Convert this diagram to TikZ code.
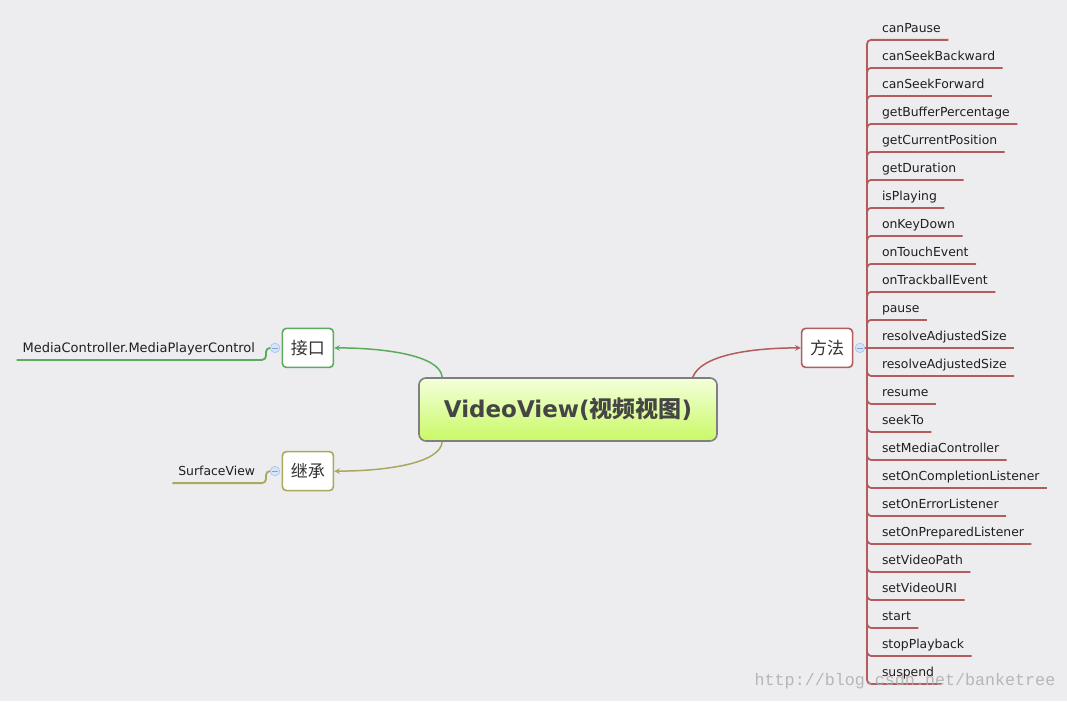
\documentclass[tikz,border=0pt]{standalone}
\usepackage{fontspec}
\setmainfont{DejaVu Sans}
\newfontfamily\cjk{Noto Sans CJK SC}
\newfontfamily\urlfont{Liberation Mono}
\usetikzlibrary{shapes.geometric, arrows, positioning}

\definecolor{paper}{HTML}{EDEDEF}
\definecolor{coretop}{HTML}{F4FFDC}
\definecolor{corebot}{HTML}{C9F965}
\definecolor{coreline}{HTML}{7F7F7F}
\definecolor{coretext}{HTML}{454545}
\definecolor{ifgreen}{HTML}{5CAB5C}
\definecolor{inholive}{HTML}{A8A85E}
\definecolor{methred}{HTML}{B25C5C}
\definecolor{foldfill}{HTML}{D6E4F8}
\definecolor{foldline}{HTML}{A7C1EC}
\definecolor{foldmark}{HTML}{7FA3DE}

\tikzstyle{central} = [rectangle, rounded corners=7pt, minimum width=298pt, minimum height=63pt, text centered, draw=coreline, line width=1.6pt, top color=coretop, bottom color=corebot, text=coretext, font=\fontsize{23}{23}\selectfont\bfseries]
\tikzstyle{topic} = [rectangle, rounded corners=4pt, minimum width=51pt, minimum height=39pt, text centered, line width=1.6pt, fill=white, text=black!80, font=\cjk\fontsize{17}{17}\selectfont]
\tikzstyle{fold} = [circle, minimum size=9.5pt, inner sep=0pt, draw=foldline, fill=foldfill, line width=0.6pt, path picture={\draw[foldmark, line width=0.8pt] ([xshift=-2.6pt]path picture bounding box.center) -- ([xshift=2.6pt]path picture bounding box.center);}]
\tikzstyle{leaf} = [rectangle, anchor=north west, outer sep=0pt, inner xsep=7.5pt, inner ysep=0pt, minimum height=28pt, text height=16pt, text depth=3pt, text=black!88, font=\fontsize{12.4}{12.4}\selectfont]
\tikzstyle{sideleaf} = [leaf, anchor=south east, inner xsep=6pt]
\tikzstyle{edge} = [line width=1.5pt, ->, >=stealth]
\tikzstyle{branch} = [line width=1.8pt, rounded corners=4pt]

\begin{document}
\begin{tikzpicture}[x=1pt, y=1pt]

\fill[paper] (0,0) rectangle (1067,-701);
\useasboundingbox (0,0) rectangle (1067,-701);

\node (0) [central] at (568,-409.5) {VideoView({\cjk 视频视图})};
\node (1) [topic, draw=ifgreen, above left=9pt and 84pt of 0] {接口};
\node (2) [topic, draw=inholive, below left=9pt and 84pt of 0] {继承};
\node (3) [topic, draw=methred, above right=9pt and 83pt of 0] {方法};

\node (4) [fold, left=1.5pt of 1] {};
\node (5) [fold, left=1.5pt of 2] {};
\node (6) [fold, right=1.5pt of 3] {};
\coordinate (hub) at ([xshift=2pt]6.east);

\node (7) [sideleaf, font=\fontsize{13}{13}\selectfont] at ([xshift=-9pt, yshift=-12pt]4.west) {MediaController.MediaPlayerControl};
\node (8) [sideleaf] at ([xshift=-9pt, yshift=-12pt]5.west) {SurfaceView};

\node (9) [leaf, anchor=south west] at ([xshift=7.5pt, yshift=308pt]hub) {canPause};
\node (10) [leaf] at (9.south west) {canSeekBackward};
\node (11) [leaf] at (10.south west) {canSeekForward};
\node (12) [leaf] at (11.south west) {getBufferPercentage};
\node (13) [leaf] at (12.south west) {getCurrentPosition};
\node (14) [leaf] at (13.south west) {getDuration};
\node (15) [leaf] at (14.south west) {isPlaying};
\node (16) [leaf] at (15.south west) {onKeyDown};
\node (17) [leaf] at (16.south west) {onTouchEvent};
\node (18) [leaf] at (17.south west) {onTrackballEvent};
\node (19) [leaf] at (18.south west) {pause};
\node (20) [leaf] at (19.south west) {resolveAdjustedSize};
\node (21) [leaf] at (20.south west) {resolveAdjustedSize};
\node (22) [leaf] at (21.south west) {resume};
\node (23) [leaf] at (22.south west) {seekTo};
\node (24) [leaf] at (23.south west) {setMediaController};
\node (25) [leaf] at (24.south west) {setOnCompletionListener};
\node (26) [leaf] at (25.south west) {setOnErrorListener};
\node (27) [leaf] at (26.south west) {setOnPreparedListener};
\node (28) [leaf] at (27.south west) {setVideoPath};
\node (29) [leaf] at (28.south west) {setVideoURI};
\node (30) [leaf] at (29.south west) {start};
\node (31) [leaf] at (30.south west) {stopPlayback};
\node (32) [leaf] at (31.south west) {suspend};

\draw [edge, ifgreen] ([xshift=24pt]0.north west) .. controls +(-2,22) and +(50,0) .. (1.east);
\draw [edge, inholive] ([xshift=24pt]0.south west) .. controls +(-2,-22) and +(50,0) .. (2.east);
\draw [edge, methred] ([xshift=-25pt]0.north east) .. controls +(8,22) and +(-50,0) .. (3.west);

\draw [branch, ifgreen] (4.west) -- ++(-4,0) |- (7.south west);
\draw [branch, inholive] (5.west) -- ++(-4,0) |- (8.south west);

\draw [branch, methred] (6.east) -- (hub);
\draw [branch, methred] (hub) |- (9.south east);
\draw [branch, methred] (hub) |- (10.south east);
\draw [branch, methred] (hub) |- (11.south east);
\draw [branch, methred] (hub) |- (12.south east);
\draw [branch, methred] (hub) |- (13.south east);
\draw [branch, methred] (hub) |- (14.south east);
\draw [branch, methred] (hub) |- (15.south east);
\draw [branch, methred] (hub) |- (16.south east);
\draw [branch, methred] (hub) |- (17.south east);
\draw [branch, methred] (hub) |- (18.south east);
\draw [branch, methred] (hub) |- (19.south east);
\draw [branch, methred] (hub) -- (20.south east);
\draw [branch, methred] (hub) |- (21.south east);
\draw [branch, methred] (hub) |- (22.south east);
\draw [branch, methred] (hub) |- (23.south east);
\draw [branch, methred] (hub) |- (24.south east);
\draw [branch, methred] (hub) |- (25.south east);
\draw [branch, methred] (hub) |- (26.south east);
\draw [branch, methred] (hub) |- (27.south east);
\draw [branch, methred] (hub) |- (28.south east);
\draw [branch, methred] (hub) |- (29.south east);
\draw [branch, methred] (hub) |- (30.south east);
\draw [branch, methred] (hub) |- (31.south east);
\draw [branch, methred] (hub) |- (32.south east);

\node (33) [text=black!32, text opacity=0.85, font=\urlfont\fontsize{16.7}{16.7}\selectfont] at (905,-681) {http://blog.csdn.net/banketree};

\end{tikzpicture}
\end{document}
